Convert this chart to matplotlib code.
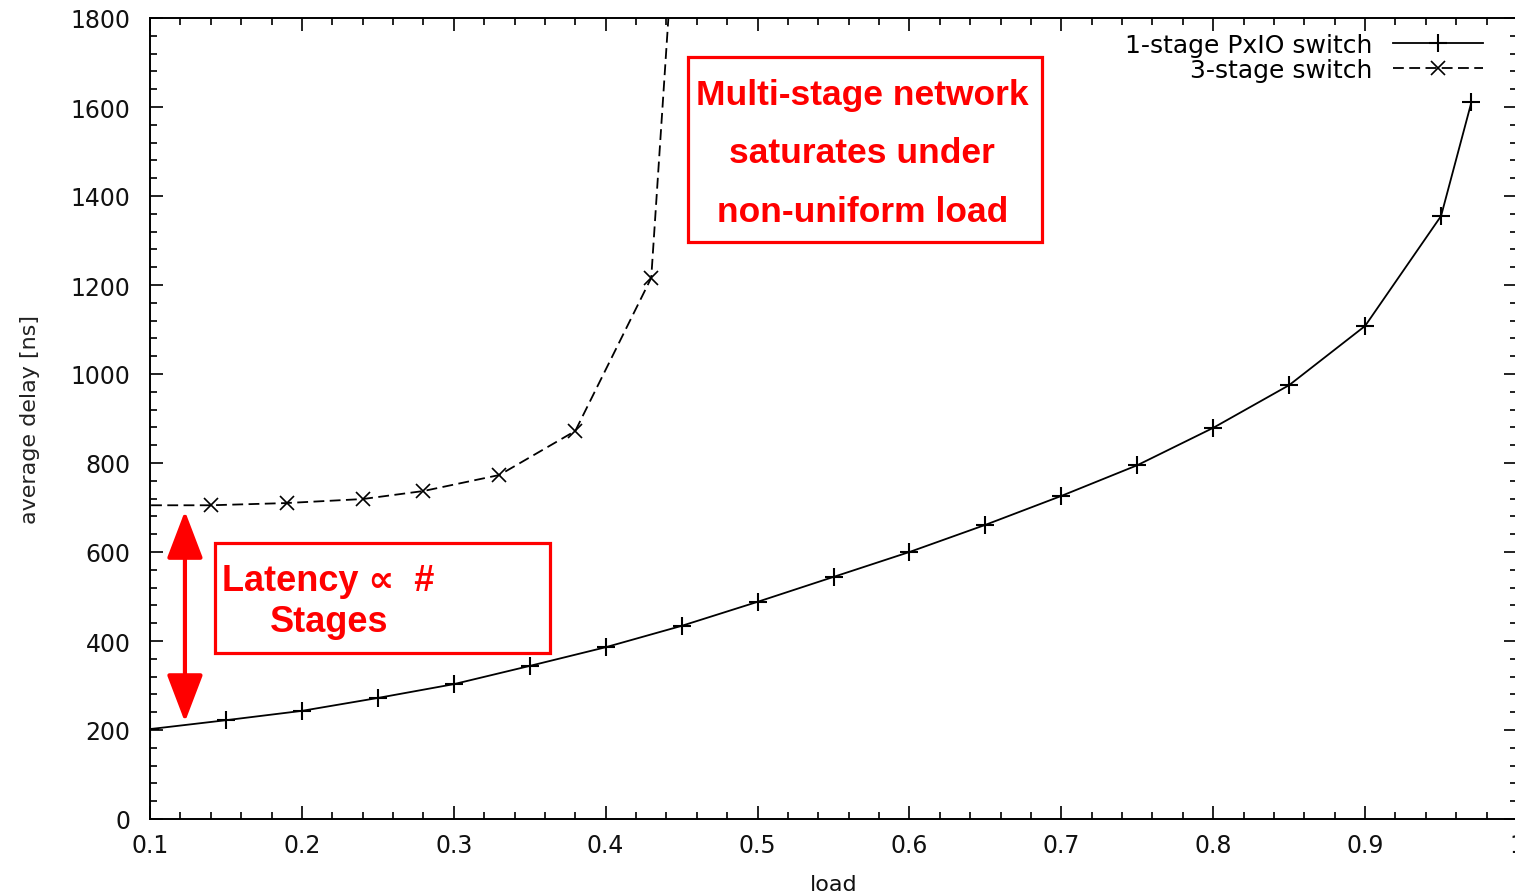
import numpy as np
import matplotlib.pyplot as plt
from matplotlib.patches import Rectangle
from matplotlib.ticker import MultipleLocator

plt.rcParams['font.family'] = ['DejaVu Sans']

# 数据：近似值
load_1stage = [0.10, 0.15, 0.20, 0.25, 0.30, 0.35, 0.40, 0.45, 0.50, 0.55,
               0.60, 0.65, 0.70, 0.75, 0.80, 0.85, 0.90, 0.95, 0.97]
delay_1stage = [202, 222, 243, 272, 303, 344, 386, 434, 488, 544,
                600, 661, 726, 795, 879, 975, 1108, 1355, 1611]

load_3stage = [0.09, 0.14, 0.19, 0.24, 0.28, 0.33, 0.38, 0.43, 0.45]
delay_3stage = [705, 705, 710, 719, 737, 773, 872, 1216, 2250]

x_ticks = [0.1, 0.2, 0.3, 0.4, 0.5, 0.6, 0.7, 0.8, 0.9, 1.0]
x_ticklabels = ['0.1', '0.2', '0.3', '0.4', '0.5', '0.6', '0.7', '0.8', '0.9', '1']
y_ticks = [0, 200, 400, 600, 800, 1000, 1200, 1400, 1600, 1800]

label_1stage = '1-stage PxIO switch'
label_3stage = '3-stage switch'

red = '#ff0000'
box_font = ['Liberation Sans', 'DejaVu Sans']

fig = plt.figure(figsize=(15.15, 8.95), dpi=100)
ax = fig.add_axes([150 / 1515, 75 / 895, 1367 / 1515, 801 / 895])

ax.plot(load_1stage, delay_1stage, color='black', lw=1.3, marker='+',
        markersize=13, markeredgewidth=1.5, label=label_1stage)
ax.plot(load_3stage, delay_3stage, color='black', lw=1.3, ls=(0, (6, 3)), marker='x',
        markersize=10, markeredgewidth=1.2, label=label_3stage)

ax.set_xlim(0.1, 1.0)
ax.set_ylim(0, 1800)
ax.set_xticks(x_ticks)
ax.set_xticklabels(x_ticklabels)
ax.set_yticks(y_ticks)
ax.xaxis.set_minor_locator(MultipleLocator(0.02))
ax.yaxis.set_minor_locator(MultipleLocator(40))
ax.tick_params(which='both', direction='in', top=True, right=True, width=1.3, colors='#111111')
ax.tick_params(which='major', length=9.5, labelsize=17)
ax.tick_params(which='minor', length=5)
ax.tick_params(axis='y', pad=14)
ax.tick_params(axis='x', pad=10)
for sp in ax.spines.values():
    sp.set_linewidth(1.4)

ax.set_xlabel('load', fontsize=16, color='#111111', labelpad=12)
ax.set_ylabel('average delay [ns]', fontsize=16, color='#222222', labelpad=22)

leg = ax.legend(loc='upper right', bbox_to_anchor=(0.984, 0.997), frameon=False,
                markerfirst=False, fontsize=18, handlelength=3.6, handletextpad=0.8,
                labelspacing=0.03, borderpad=0)

# 注释框：多级网络饱和
ax.add_patch(Rectangle((0.4542, 1296), 0.2330, 416, fill=False, ec=red, lw=2.3, zorder=5))
ax.text(0.5690, 1497, 'Multi-stage network\nsaturates under\nnon-uniform load',
        ha='center', va='center', color=red, fontsize=25.5, fontweight='bold',
        family=box_font, linespacing=1.97, zorder=6)

# 注释框：延迟与级数成正比
ax.add_patch(Rectangle((0.1428, 373), 0.2205, 247, fill=False, ec=red, lw=2.3, zorder=5))
ax.text(0.1474, 535, 'Latency \u221d  #', ha='left', va='center', color=red,
        fontsize=26, fontweight='bold', family=box_font, zorder=6)
ax.text(0.1790, 443, 'Stages', ha='left', va='center', color=red,
        fontsize=26, fontweight='bold', family=box_font, zorder=6)

# 红色双向箭头
ax.annotate('', xy=(0.123, 692), xytext=(0.123, 218),
            arrowprops=dict(arrowstyle='<|-|>,head_length=1.05,head_width=0.4',
                            mutation_scale=28, color=red, lw=3, shrinkA=0, shrinkB=0),
            zorder=6)

fig.savefig('out.png', dpi=100)
